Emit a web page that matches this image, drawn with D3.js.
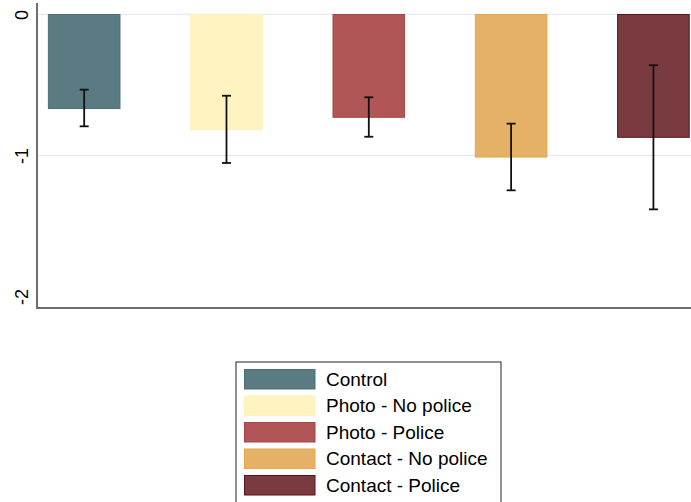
<!DOCTYPE html>
<html>
<head>
<meta charset="utf-8">
<script src="https://cdn.jsdelivr.net/npm/d3@7"></script>
<style>
  html, body { margin: 0; padding: 0; background: #fff; }
  svg { display: block; font-family: "Liberation Sans", Arial, sans-serif; }
</style>
</head>
<body>
<svg id="chart" width="691" height="502"></svg>
<script>
// Group labels, mean effects and 95% confidence bounds
const groups = ["Control", "Photo - No police", "Photo - Police", "Contact - No police", "Contact - Police"];
const means = [-0.667, -0.817, -0.729, -1.011, -0.871];
const ciLow = [-0.793, -1.053, -0.867, -1.247, -1.382];
const ciHigh = [-0.533, -0.576, -0.587, -0.774, -0.360];
const fills = ["#5b7b82", "#fff4c1", "#b05656", "#e5b166", "#793b3f"];
const strokes = ["#4f6f77", "#fdf0b8", "#a94545", "#e8a645", "#5a1318"];
const yTicks = [0, -1, -2];

const svg = d3.select("#chart");

const x = d3.scaleBand()
  .domain(groups)
  .range([37, 700.6])
  .paddingInner(0.497)
  .paddingOuter(0.08);

const y = d3.scaleLinear()
  .domain([0, -2])
  .range([14.5, 296.5]);

// Horizontal gridlines
svg.append("g")
  .selectAll("line")
  .data(yTicks.filter(t => t !== -2))
  .join("line")
  .attr("x1", 38).attr("x2", 691)
  .attr("y1", d => y(d)).attr("y2", d => y(d))
  .attr("stroke", "#e6edf2")
  .attr("stroke-width", 1.5);

// Bars
svg.append("g")
  .selectAll("rect")
  .data(groups)
  .join("rect")
  .attr("x", d => x(d))
  .attr("y", y(0))
  .attr("width", x.bandwidth())
  .attr("height", (d, i) => y(means[i]) - y(0))
  .attr("fill", (d, i) => fills[i])
  .attr("stroke", (d, i) => strokes[i])
  .attr("stroke-width", 1);

// Confidence intervals
const cap = 4.5;
const eb = svg.append("g")
  .selectAll("g")
  .data(groups)
  .join("g")
  .attr("stroke", "#111")
  .attr("stroke-width", 1.8);
eb.append("line")
  .attr("x1", d => x(d) + x.bandwidth() / 2)
  .attr("x2", d => x(d) + x.bandwidth() / 2)
  .attr("y1", (d, i) => y(ciHigh[i]))
  .attr("y2", (d, i) => y(ciLow[i]));
eb.append("line")
  .attr("x1", d => x(d) + x.bandwidth() / 2 - cap)
  .attr("x2", d => x(d) + x.bandwidth() / 2 + cap)
  .attr("y1", (d, i) => y(ciHigh[i]))
  .attr("y2", (d, i) => y(ciHigh[i]));
eb.append("line")
  .attr("x1", d => x(d) + x.bandwidth() / 2 - cap)
  .attr("x2", d => x(d) + x.bandwidth() / 2 + cap)
  .attr("y1", (d, i) => y(ciLow[i]))
  .attr("y2", (d, i) => y(ciLow[i]));

// Y axis with rotated tick labels
const yAxis = svg.append("g")
  .attr("transform", "translate(37,0)")
  .call(d3.axisLeft(y).tickValues(yTicks).tickSize(0).tickFormat(d => String(d)));
yAxis.select(".domain").remove();
yAxis.selectAll(".tick text")
  .attr("x", null).attr("y", null).attr("dy", null)
  .attr("transform", "translate(-9.5,0) rotate(-90)")
  .attr("text-anchor", "middle")
  .attr("font-size", 18)
  .attr("font-family", "'Liberation Sans', Arial, sans-serif")
  .attr("fill", "#000");

// Axis frame lines
svg.append("line")
  .attr("x1", 37).attr("x2", 37)
  .attr("y1", 3).attr("y2", 308)
  .attr("stroke", "#6e6e6e").attr("stroke-width", 2);
svg.append("line")
  .attr("x1", 36).attr("x2", 691)
  .attr("y1", 308).attr("y2", 308)
  .attr("stroke", "#6e6e6e").attr("stroke-width", 2);

// Legend
const legend = svg.append("g");
legend.append("rect")
  .attr("x", 236).attr("y", 362)
  .attr("width", 265).attr("height", 150)
  .attr("fill", "#fff")
  .attr("stroke", "#222").attr("stroke-width", 1);
const items = legend.selectAll("g.item")
  .data(groups)
  .join("g")
  .attr("class", "item")
  .attr("transform", (d, i) => `translate(0,${369.5 + i * 26.5})`);
items.append("rect")
  .attr("x", 244.5).attr("y", 0)
  .attr("width", 70.5).attr("height", 19.5)
  .attr("fill", (d, i) => fills[i])
  .attr("stroke", (d, i) => strokes[i])
  .attr("stroke-width", 1);
items.append("text")
  .attr("x", 326).attr("y", 16.3)
  .attr("font-size", 19)
  .attr("fill", "#000")
  .text(d => d);
</script>
</body>
</html>
